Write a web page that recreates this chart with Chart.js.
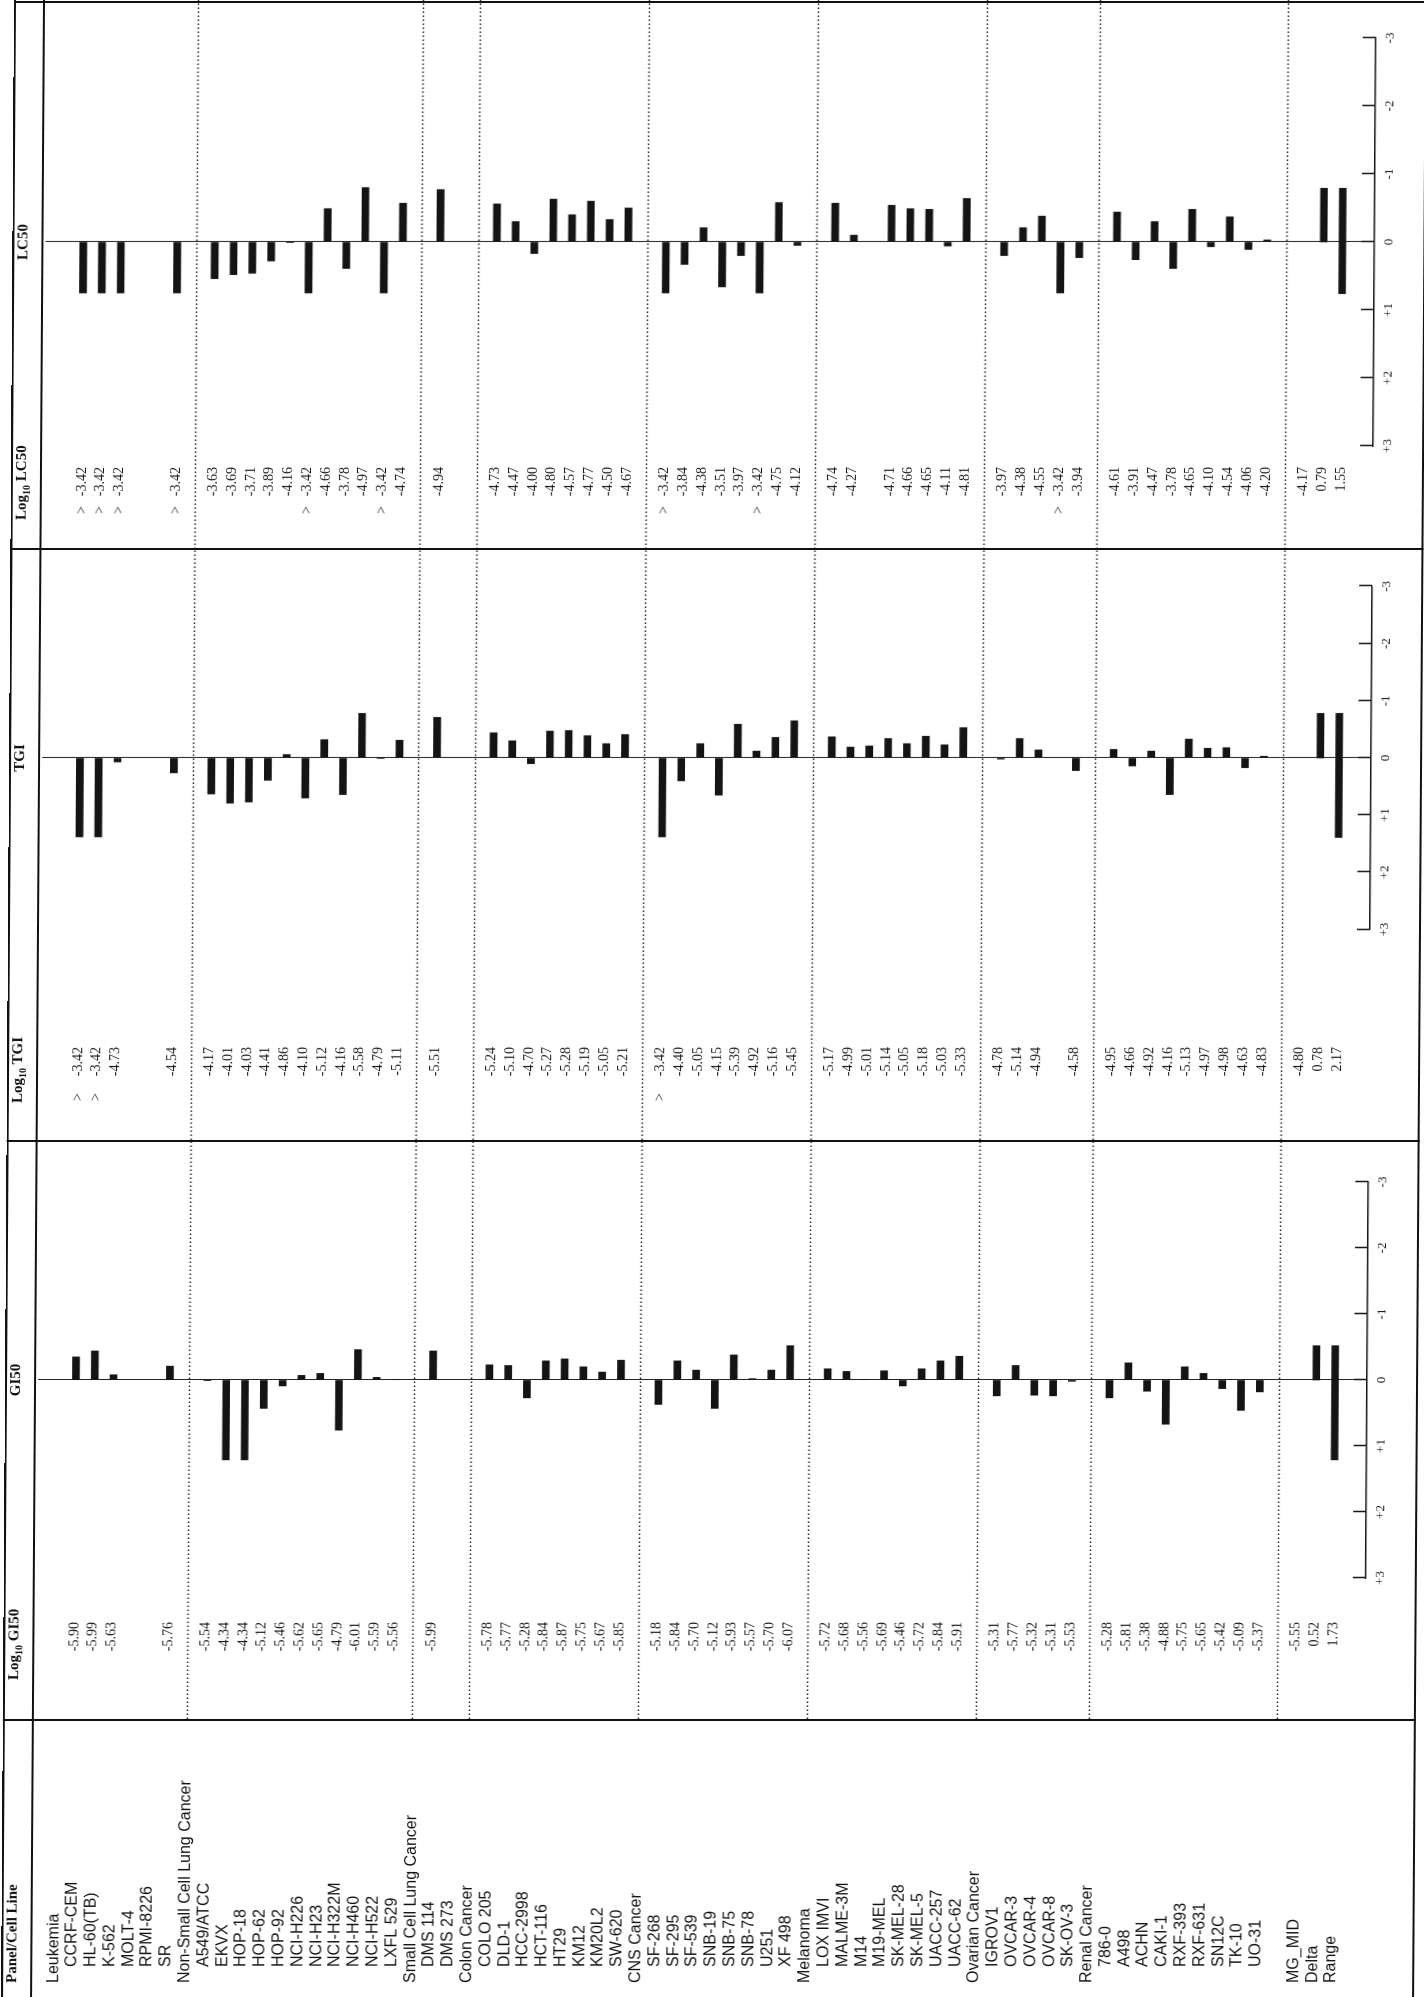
<!DOCTYPE html>
<html>
<head>
<meta charset="utf-8">
<title>Mean graph GI50 / TGI / LC50</title>
<script src="https://cdn.jsdelivr.net/npm/chart.js@4.4.1/dist/chart.umd.min.js"></script>
<style>
  html, body { margin: 0; padding: 0; background: #fff; overflow: hidden; }
  body { width: 1424px; height: 1997px; position: relative; }
  /* the page is laid out upright (1997 x 1424) and turned a quarter left;
     the small skew follows the slant of the scanned sheet */
  #page { position: absolute; left: 0; top: 0; width: 1997px; height: 1424px;
          transform-origin: 0 0;
          transform: translateY(1997px) rotate(-90deg) translateY(-1.95px) skewY(0.372deg); }
  #page canvas { position: absolute; top: 0; }
  .hdr { position: absolute; top: 5px; line-height: 24px; white-space: nowrap;
         font: bold 15px 'Liberation Serif', serif; color: #111; }
  .hdr.c { width: 100px; text-align: center; }
  .hdr sub { font-size: 10px; line-height: 0; vertical-align: -4px; }
  .rule { position: absolute; background: #111; }
</style>
</head>
<body>
<div id="page">
  <canvas id="gi50" width="857" height="1424" style="left:0"></canvas>
  <canvas id="tgi" width="591" height="1424" style="left:857px"></canvas>
  <canvas id="lc50" width="549" height="1424" style="left:1448px"></canvas>

  <div class="hdr" style="left:14px">Panel/Cell Line</div>
  <div class="hdr" style="left:317px">Log<sub>10</sub> GI50</div>
  <div class="hdr c" style="left:567px">GI50</div>
  <div class="hdr" style="left:894px">Log<sub>10</sub> TGI</div>
  <div class="hdr c" style="left:1189px">TGI</div>
  <div class="hdr" style="left:1477px">Log<sub>10</sub> LC50</div>
  <div class="hdr c" style="left:1705px">LC50</div>

  <div class="rule" style="left:0;top:3px;width:1997px;height:2px"></div>
  <div class="rule" style="left:0;top:32px;width:1997px;height:1.5px"></div>
  <div class="rule" style="left:0;top:1414px;width:1997px;height:2px"></div>
  <div class="rule" style="left:276px;top:3px;width:2px;height:1413px"></div>
  <div class="rule" style="left:855px;top:3px;width:2px;height:1413px"></div>
  <div class="rule" style="left:1447px;top:3px;width:2px;height:1413px"></div>
  <div class="rule" style="left:1994px;top:3px;width:2px;height:1413px"></div>
</div>

<script>
// rows of the mean graph, top to bottom ('' = spacer row)
const rows = ['Leukemia', 'CCRF-CEM', 'HL-60(TB)', 'K-562', 'MOLT-4', 'RPMI-8226', 'SR',
  'Non-Small Cell Lung Cancer', 'A549/ATCC', 'EKVX', 'HOP-18', 'HOP-62', 'HOP-92', 'NCI-H226',
  'NCI-H23', 'NCI-H322M', 'NCI-H460', 'NCI-H522', 'LXFL 529',
  'Small Cell Lung Cancer', 'DMS 114', 'DMS 273',
  'Colon Cancer', 'COLO 205', 'DLD-1', 'HCC-2998', 'HCT-116', 'HT29', 'KM12', 'KM20L2', 'SW-620',
  'CNS Cancer', 'SF-268', 'SF-295', 'SF-539', 'SNB-19', 'SNB-75', 'SNB-78', 'U251', 'XF 498',
  'Melanoma', 'LOX IMVI', 'MALME-3M', 'M14', 'M19-MEL', 'SK-MEL-28', 'SK-MEL-5', 'UACC-257', 'UACC-62',
  'Ovarian Cancer', 'IGROV1', 'OVCAR-3', 'OVCAR-4', 'OVCAR-8', 'SK-OV-3',
  'Renal Cancer', '786-0', 'A498', 'ACHN', 'CAKI-1', 'RXF-393', 'RXF-631', 'SN12C', 'TK-10', 'UO-31',
  '', 'MG_MID', 'Delta', 'Range'];

const panels = ['Leukemia', 'Non-Small Cell Lung Cancer', 'Small Cell Lung Cancer', 'Colon Cancer',
  'CNS Cancer', 'Melanoma', 'Ovarian Cancer', 'Renal Cancer'];
const summaryRows = ['MG_MID', 'Delta', 'Range'];

// log10 values per row (null = heading row or not tested)
const gi50 = [null, -5.90, -5.99, -5.63, null, null, -5.76,
  null, -5.54, -4.34, -4.34, -5.12, -5.46, -5.62, -5.65, -4.79, -6.01, -5.59, -5.56,
  null, -5.99, null,
  null, -5.78, -5.77, -5.28, -5.84, -5.87, -5.75, -5.67, -5.85,
  null, -5.18, -5.84, -5.70, -5.12, -5.93, -5.57, -5.70, -6.07,
  null, -5.72, -5.68, -5.56, -5.69, -5.46, -5.72, -5.84, -5.91,
  null, -5.31, -5.77, -5.32, -5.31, -5.53,
  null, -5.28, -5.81, -5.38, -4.88, -5.75, -5.65, -5.42, -5.09, -5.37];

const tgi = [null, -3.42, -3.42, -4.73, null, null, -4.54,
  null, -4.17, -4.01, -4.03, -4.41, -4.86, -4.10, -5.12, -4.16, -5.58, -4.79, -5.11,
  null, -5.51, null,
  null, -5.24, -5.10, -4.70, -5.27, -5.28, -5.19, -5.05, -5.21,
  null, -3.42, -4.40, -5.05, -4.15, -5.39, -4.92, -5.16, -5.45,
  null, -5.17, -4.99, -5.01, -5.14, -5.05, -5.18, -5.03, -5.33,
  null, -4.78, -5.14, -4.94, null, -4.58,
  null, -4.95, -4.66, -4.92, -4.16, -5.13, -4.97, -4.98, -4.63, -4.83];

const lc50 = [null, -3.42, -3.42, -3.42, null, null, -3.42,
  null, -3.63, -3.69, -3.71, -3.89, -4.16, -3.42, -4.66, -3.78, -4.97, -3.42, -4.74,
  null, -4.94, null,
  null, -4.73, -4.47, -4.00, -4.80, -4.57, -4.77, -4.50, -4.67,
  null, -3.42, -3.84, -4.38, -3.51, -3.97, -3.42, -4.75, -4.12,
  null, -4.74, -4.27, null, -4.71, -4.66, -4.65, -4.11, -4.81,
  null, -3.97, -4.38, -4.55, -3.42, -3.94,
  null, -4.61, -3.91, -4.47, -3.78, -4.65, -4.10, -4.54, -4.06, -4.20];

// MG_MID, Delta, Range
const gi50Summary = [-5.55, 0.52, 1.73];
const tgiSummary = [-4.80, 0.78, 2.17];
const lc50Summary = [-4.17, 0.79, 1.55];

const topConc = -3.42;   // highest tested concentration, shown as "> -3.42"

const scaleSteps = [-3, -2, -1, 0, 1, 2, 3];
const scaleLabels = ['-3', '-2', '-1', '0', '+1', '+2', '+3'];

// ---- fonts / shared layout ----
const nameFont = { family: "'Liberation Sans', sans-serif", size: 16 };
const numFont = { family: "'Liberation Serif', serif", size: 14 };
const axisFont = { family: "'Liberation Serif', serif", size: 13 };
const yMin = -0.5, yMax = 69.19;   // row axis span
const ink = '#141414';
const indent = '\u2002\u2002';

const nameLabels = rows.map(r => panels.includes(r) || summaryRows.includes(r) || r === '' ? r : indent + r);
const ruleRows = rows.map((r, i) => (i > 0 && panels.includes(r)) || r === '' ? i : -1).filter(i => i >= 0);

function valueLabels(vals, summary) {
  return rows.map((r, i) => {
    if (i < vals.length) return vals[i] == null ? '' : vals[i].toFixed(2);
    const k = summaryRows.indexOf(r);
    return k >= 0 ? summary[k].toFixed(2) : '';
  });
}

function qualLabels(vals) {
  return rows.map((r, i) => vals[i] != null && vals[i] >= topConc ? '>' : '');
}

function rowAxis(labels, weight, align, width, pad, font) {
  return {
    type: 'linear', position: 'left', reverse: true, min: yMin, max: yMax, weight,
    grid: { display: false, drawTicks: false },
    border: { display: false },
    afterBuildTicks: ax => { ax.ticks = labels.map((_, i) => ({ value: i })); },
    afterFit: ax => {
      ax.width = width;
      ax.paddingTop = 0;
      ax.paddingBottom = 0;
    },
    ticks: { autoSkip: false, crossAlign: align, padding: pad, color: ink, font,
             callback: v => labels[v] }
  };
}

function valueAxis(mid) {
  return {
    type: 'linear', position: 'bottom', reverse: true, min: mid - 3, max: mid + 3,
    afterBuildTicks: ax => { ax.ticks = scaleSteps.map(s => ({ value: mid + s })); },
    afterFit: ax => {
      ax.height = 30;
      ax.paddingLeft = 0;
      ax.paddingRight = 0;
    },
    grid: { drawTicks: false, lineWidth: 1,
            color: c => c.tick && c.tick.value === mid ? '#222' : 'rgba(0,0,0,0)' },
    border: { display: true, color: ink, width: 1.5 },
    ticks: { autoSkip: false, maxRotation: 0, padding: 7, color: ink, font: axisFont,
             callback: (v, i) => scaleLabels[i] }
  };
}

// dotted separators between the panels
const rowRules = {
  id: 'rowRules',
  beforeDatasetsDraw(chart, args, opts) {
    const sy = chart.scales.y, ctx = chart.ctx;
    ctx.save();
    ctx.strokeStyle = '#222';
    ctx.lineWidth = 1.3;
    ctx.setLineDash([1.5, 2.5]);
    ruleRows.forEach(i => {
      const py = Math.round(sy.getPixelForValue(i)) + 0.5;
      ctx.beginPath();
      ctx.moveTo(opts.from || 0, py);
      ctx.lineTo(chart.width, py);
      ctx.stroke();
    });
    ctx.restore();
  }
};

// scale ticks point into the plot, like the printed sheet
const innerTicks = {
  id: 'innerTicks',
  afterDraw(chart) {
    const sx = chart.scales.x, ctx = chart.ctx, b = chart.chartArea.bottom;
    ctx.save();
    ctx.strokeStyle = ink;
    ctx.lineWidth = 1.5;
    sx.ticks.forEach(t => {
      const px = Math.round(sx.getPixelForValue(t.value)) + 0.5;
      ctx.beginPath();
      ctx.moveTo(px, b);
      ctx.lineTo(px, b - 13);
      ctx.stroke();
    });
    ctx.restore();
  }
};

function renderPanel(id, vals, summary, leftAxes, padding, rulesFrom) {
  const [mid, delta, range] = summary;
  const low = mid - delta;
  const bars = vals.map((v, i) => v == null ? null : { x: v, y: i }).filter(Boolean);
  const extra = [
    { x: [mid, low], y: rows.indexOf('Delta') },
    { x: [low, low + range], y: rows.indexOf('Range') }
  ];

  new Chart(document.getElementById(id), {
    type: 'bar',
    data: {
      datasets: [
        { data: bars, base: mid, backgroundColor: ink, borderWidth: 0, barThickness: 7, grouped: false },
        { data: extra, backgroundColor: ink, borderWidth: 0, barThickness: 7, grouped: false }
      ]
    },
    options: {
      indexAxis: 'y',
      responsive: false,
      animation: false,
      devicePixelRatio: 1,
      layout: { padding },
      scales: Object.assign({ x: valueAxis(mid) }, leftAxes),
      plugins: {
        legend: { display: false },
        tooltip: { enabled: false },
        rowRules: { from: rulesFrom }
      }
    },
    plugins: [rowRules, innerTicks]
  });
}

const pad = (left, right) => ({ left, right, top: 36.07, bottom: 29 });

renderPanel('gi50', gi50, gi50Summary, {
  y: rowAxis(valueLabels(gi50, gi50Summary), 2, 'near', 90, 44, numFont),
  yName: rowAxis(nameLabels, 3, 'far', 315, 0, nameFont)
}, pad(14, 42), 278);

renderPanel('tgi', tgi, tgiSummary, {
  y: rowAxis(valueLabels(tgi, tgiSummary), 2, 'near', 163.4, 117.4, numFont),
  yQual: rowAxis(qualLabels(tgi), 3, 'near', 47, 0, numFont)
}, pad(0, 37.4), 0);

renderPanel('lc50', lc50, lc50Summary, {
  y: rowAxis(valueLabels(lc50, lc50Summary), 2, 'near', 60, 21, numFont),
  yQual: rowAxis(qualLabels(lc50), 3, 'near', 43, 0, numFont)
}, pad(0, 38), 0);
</script>
</body>
</html>
